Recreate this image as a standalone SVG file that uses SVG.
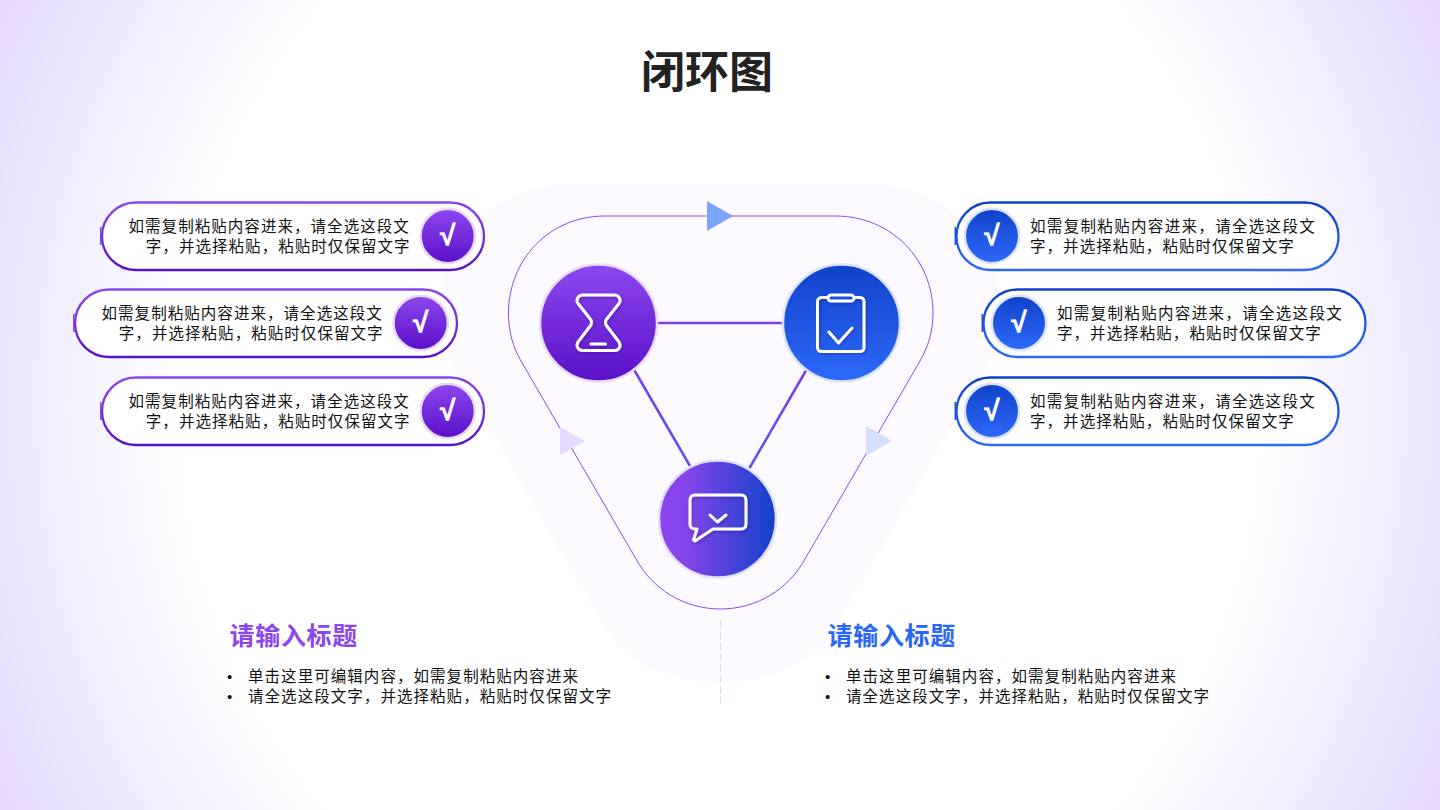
<svg xmlns="http://www.w3.org/2000/svg" width="1440" height="810" viewBox="0 0 1440 810">
<style>
text{font-family:"Noto Sans CJK SC","Noto Sans",sans-serif}
.t{font-size:15.500px;letter-spacing:1.05px;fill:#111}
.j{letter-spacing:1.33px}
.bu{font-family:"Liberation Sans",sans-serif;font-size:15px;fill:#111}
.h{font-size:25px;font-weight:700;letter-spacing:.7px}
.ck{font-family:"Liberation Sans",sans-serif;font-size:28px;font-weight:700;fill:#fff;stroke:#fff;stroke-width:.6px;text-anchor:middle}
.ic{fill:none;stroke:#fff;stroke-width:3;stroke-linecap:round;stroke-linejoin:round}
.ring{stroke-width:2.500}
.pp{fill:#fff;stroke:url(#pv);stroke-width:2.300}
.pb{fill:#fff;stroke:url(#bv);stroke-width:2.300}
</style>
<defs>
<radialGradient id="bg" gradientUnits="userSpaceOnUse" cx="0" cy="0" r="1" gradientTransform="translate(720 405) scale(810 882)">
<stop offset="0" stop-color="#fff"/><stop offset=".665" stop-color="#fff"/><stop offset=".75" stop-color="#f7f6ff"/><stop offset=".92" stop-color="#e7e4fd"/><stop offset="1" stop-color="#e9d7ff"/>
</radialGradient>
<linearGradient id="pv" x1="0" y1="0" x2="0" y2="1"><stop offset="0" stop-color="#8d47ee"/><stop offset="1" stop-color="#5a10c8"/></linearGradient>
<linearGradient id="bv" x1="0" y1="0" x2="0" y2="1"><stop offset="0" stop-color="#0f42c8"/><stop offset="1" stop-color="#2e69fb"/></linearGradient>
<linearGradient id="mh" x1="0" y1="0" x2="1" y2="0"><stop offset="0" stop-color="#8d47ee"/><stop offset=".25" stop-color="#8344e9"/><stop offset="1" stop-color="#0f42c8"/></linearGradient>
<linearGradient id="lp" x1="0" y1="0" x2="0" y2="1"><stop offset="0" stop-color="#7a3cec"/><stop offset="1" stop-color="#5a55f0"/></linearGradient>
<filter id="sh" x="-30%" y="-30%" width="160%" height="160%"><feDropShadow dx="1" dy="1.500" stdDeviation="1.500" flood-color="#2a0a80" flood-opacity=".35"/></filter>
<path id="loop" d="M605 216H835C892 216 933 260 933 313C933 332 928 347 920 361L805 559C788 590 756 609 720.500 609C685 609 653 590 636 559L521 361C513 347 508.500 332 508.500 313C508.500 260 549 216 605 216Z"/>
</defs>
<rect width="1440" height="810" fill="url(#bg)"/>
<path d="M570 185H870C945 185 1001 245 1001 310C1001 335 995 350 987 365L832 632C810 665 765 682 720 682C675 682 630 665 608 632L453 365C445 350 439 335 439 310C439 245 495 185 570 185Z" fill="#fcfaff"/>
<text x="707" y="88" font-size="44" font-weight="700" text-anchor="middle" fill="#222">闭环图</text>

<g id="connectors" fill="none">
<use href="#loop" stroke="#8a4bf0" stroke-width="1"/>
<path d="M658 323H782" stroke="#7c3fee" stroke-width="2.300"/>
<path d="M634.500 370.500L690 466" stroke="url(#lp)" stroke-width="2.500"/>
<path d="M806 370.500L749.500 468" stroke="url(#lp)" stroke-width="2.500"/>
<polygon points="707,201 733,216 707,231" fill="#7ea3fb"/>
<polygon points="560,427 585,441 560,455" fill="#e6daff"/>
<polygon points="866,426 892,441 866,456" fill="#d4e0fe"/>
<path d="M720.500 620V704" stroke="#cfdcfb" stroke-width="1" stroke-dasharray="8 3"/>
</g>

<g id="node-hourglass">
<circle cx="598.500" cy="323" r="58.500" fill="url(#pv)" stroke="#e6dcfa" class="ring"/>
<g filter="url(#sh)">
<path class="ic" d="M583 295H614.500C619 295 621.500 300 619 303.500L606 320Q604.800 322.500 606 325L619 342C621.500 346 619 350.500 614.500 350.500H583C578 350.500 575.500 346 578 342L591 325Q592.200 322.500 591 320L578 303.500C575.500 300 578 295 583 295Z"/>
<path class="ic" d="M591 344H605.500"/>
</g>
</g>
<g id="node-clipboard">
<circle cx="841.500" cy="323" r="58.500" fill="url(#bv)" stroke="#dbe3fb" class="ring"/>
<g filter="url(#sh)">
<rect class="ic" x="817.500" y="297.500" width="46.500" height="54" rx="4"/>
<rect class="ic" x="828" y="295" width="26" height="6" rx="3" style="fill:#1c50d8"/>
<path class="ic" d="M829 332L838.500 343L852 328"/>
</g>
</g>
<g id="node-chat">
<circle cx="717.500" cy="519" r="58.500" fill="url(#mh)" stroke="#e2e0fa" class="ring"/>
<g filter="url(#sh)">
<path class="ic" d="M695 495H741C744 495 746 497 746 500V524C746 527 744 529 741 529H713L695 541L693.500 540L697 529H695C692 529 690 527 690 524V500C690 497 692 495 695 495Z"/>
<path class="ic" d="M710 515L717.500 522L726 515"/>
</g>
</g>

<g id="pill-l1">
<rect class="pp" x="102" y="202.500" width="382" height="67.500" rx="33.750"/>
<path d="M100.800 227V245" stroke="#8140e8" stroke-width="1.500"/>
<text class="t" x="128.500" y="232">如需复制粘贴内容进来，请全选这段文</text>
<text class="t" x="145.800" y="252">字，并选择粘贴，粘贴时仅保留文字</text>
<circle cx="447.700" cy="236" r="27.200" fill="url(#pv)" stroke="#e6dcfa" class="ring"/>
<text class="ck" x="447.700" y="245">√</text>
</g>
<g id="pill-l2">
<rect class="pp" x="75" y="289.500" width="382" height="67.500" rx="33.750"/>
<path d="M73.800 314V332" stroke="#8140e8" stroke-width="1.500"/>
<text class="t" x="101.500" y="319">如需复制粘贴内容进来，请全选这段文</text>
<text class="t" x="118.800" y="339">字，并选择粘贴，粘贴时仅保留文字</text>
<circle cx="420.700" cy="323" r="27.200" fill="url(#pv)" stroke="#e6dcfa" class="ring"/>
<text class="ck" x="420.700" y="332">√</text>
</g>
<g id="pill-l3">
<rect class="pp" x="102" y="377.500" width="382" height="67.500" rx="33.750"/>
<path d="M100.800 402V420" stroke="#8140e8" stroke-width="1.500"/>
<text class="t" x="128.500" y="407">如需复制粘贴内容进来，请全选这段文</text>
<text class="t" x="145.800" y="427">字，并选择粘贴，粘贴时仅保留文字</text>
<circle cx="447.700" cy="411" r="27.200" fill="url(#pv)" stroke="#e6dcfa" class="ring"/>
<text class="ck" x="447.700" y="420">√</text>
</g>
<g id="pill-r1">
<rect class="pb" x="956.500" y="202.500" width="382" height="67.500" rx="33.750"/>
<path d="M955.300 227V245" stroke="#1c50d8" stroke-width="1.500"/>
<text class="t j" x="1030" y="232">如需复制粘贴内容进来，请全选这段文</text>
<text class="t" x="1030" y="252">字，并选择粘贴，粘贴时仅保留文字</text>
<circle cx="992" cy="236" r="27.200" fill="url(#bv)" stroke="#dbe3fb" class="ring"/>
<text class="ck" x="992" y="245">√</text>
</g>
<g id="pill-r2">
<rect class="pb" x="983.500" y="289.500" width="382" height="67.500" rx="33.750"/>
<path d="M982.300 314V332" stroke="#1c50d8" stroke-width="1.500"/>
<text class="t j" x="1057" y="319">如需复制粘贴内容进来，请全选这段文</text>
<text class="t" x="1057" y="339">字，并选择粘贴，粘贴时仅保留文字</text>
<circle cx="1019" cy="323" r="27.200" fill="url(#bv)" stroke="#dbe3fb" class="ring"/>
<text class="ck" x="1019" y="332">√</text>
</g>
<g id="pill-r3">
<rect class="pb" x="956.500" y="377.500" width="382" height="67.500" rx="33.750"/>
<path d="M955.300 402V420" stroke="#1c50d8" stroke-width="1.500"/>
<text class="t j" x="1030" y="407">如需复制粘贴内容进来，请全选这段文</text>
<text class="t" x="1030" y="427">字，并选择粘贴，粘贴时仅保留文字</text>
<circle cx="992" cy="411" r="27.200" fill="url(#bv)" stroke="#dbe3fb" class="ring"/>
<text class="ck" x="992" y="420">√</text>
</g>

<g id="note-left">
<text class="h" x="229.500" y="645" fill="#8b46f0">请输入标题</text>
<text class="bu" x="227" y="682">•</text><text class="t" x="248" y="682">单击这里可编辑内容，如需复制粘贴内容进来</text>
<text class="bu" x="227" y="702">•</text><text class="t" x="248" y="702">请全选这段文字，并选择粘贴，粘贴时仅保留文字</text>
</g>
<g id="note-right">
<text class="h" x="827.500" y="645" fill="#2a66f8">请输入标题</text>
<text class="bu" x="825" y="682">•</text><text class="t" x="846" y="682">单击这里可编辑内容，如需复制粘贴内容进来</text>
<text class="bu" x="825" y="702">•</text><text class="t" x="846" y="702">请全选这段文字，并选择粘贴，粘贴时仅保留文字</text>
</g>
</svg>
